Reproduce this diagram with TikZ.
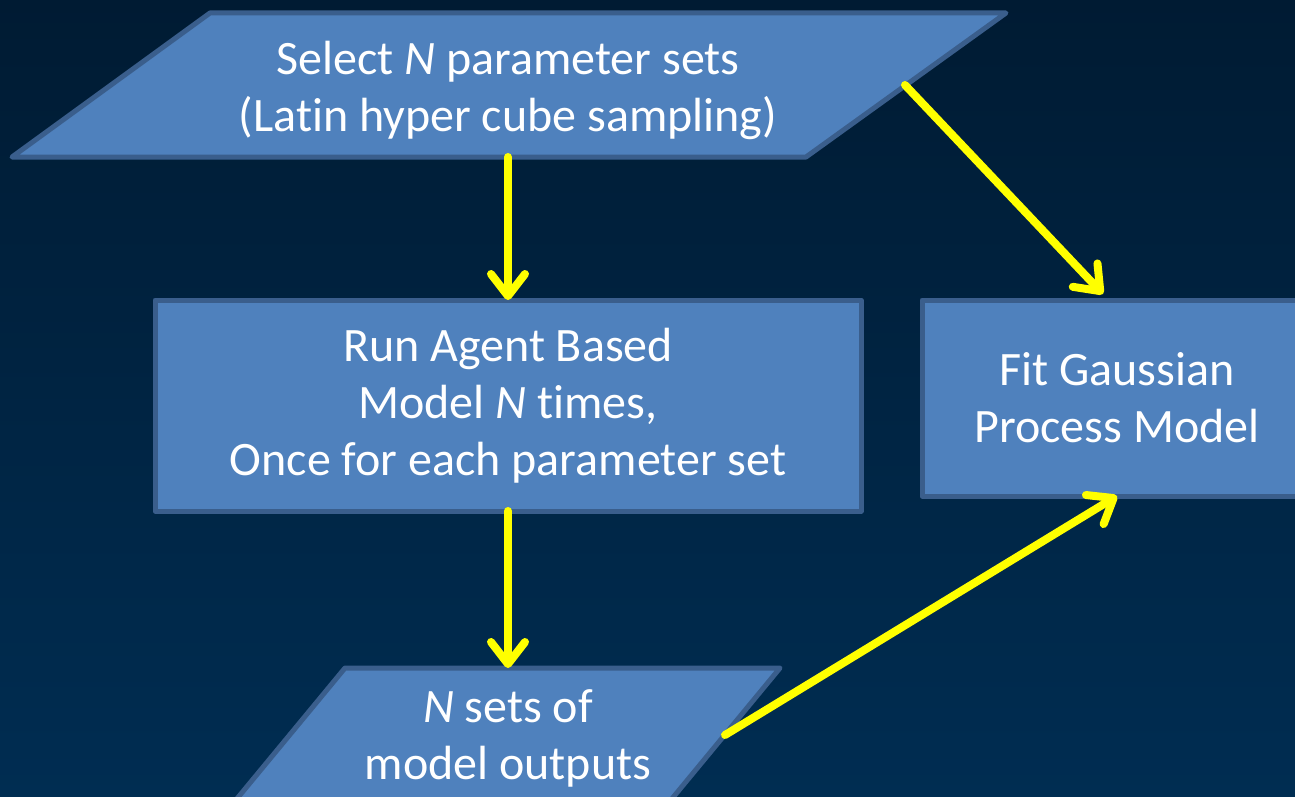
\documentclass[tikz,border=0pt]{standalone}
\usepackage{fontspec}
\setmainfont{Carlito}[Ligatures=NoCommon]
\usetikzlibrary{arrows.meta}
\definecolor{bgtop}{RGB}{0,27,51}
\definecolor{bgbot}{RGB}{0,45,82}
\definecolor{boxfill}{RGB}{79,129,189}
\definecolor{boxline}{RGB}{58,94,140}
\definecolor{arrowyel}{RGB}{255,255,0}
\tikzset{
  shapestyle/.style={fill=boxfill, draw=boxline, line width=5pt, line join=round},
  rbox/.style={shapestyle, rectangle, inner sep=0pt, outer sep=0pt, align=center,
    text=white, font=\fontsize{48}{57}\selectfont},
  lbl/.style={inner sep=0pt, outer sep=0pt, align=center, text=white,
    font=\fontsize{48}{57}\selectfont},
  arr/.style={draw=arrowyel, line width=8pt, line cap=round,
    -{Straight Barb[length=22pt,width=34pt,round]}}
}
\begin{document}
\begin{tikzpicture}[x=1pt,y=-1pt]
\useasboundingbox (0,0) rectangle (1295,797);
\clip (0,0) rectangle (1295,797);
\shade[top color=bgtop, bottom color=bgbot] (0,0) rectangle (1295,797);

% top parallelogram
\path[shapestyle] (12,157) -- (210,13) -- (1006,13) -- (806,157) -- cycle;
\node[lbl] (sel) at (508,90) {Select \textit{N} parameter sets\\(Latin hyper cube sampling)};

% middle box
\node[rbox, minimum width=706pt, minimum height=211pt] (run) at (508,405.5)
  {Run Agent Based\\Model \textit{N} times,\\Once for each parameter set};

% right box
\node[rbox, minimum width=390pt, minimum height=196pt] (fit) at (1117,398)
  {Fit Gaussian\\Process Model};

% bottom parallelogram
\path[shapestyle] (345,668) -- (780,668) -- (656,818) -- (221,818) -- cycle;
\node[lbl] (out) at (508,738) {\textit{N} sets of\\model outputs};

% connector end points
\coordinate (selbot) at (508,157);
\coordinate (selright) at (905,85);
\coordinate (fittop) at (1103,294);
\coordinate (outtop) at (508,668);
\coordinate (outright) at (725,735);

\draw[arr] (selbot) -- (run.north);
\draw[arr] (run.south) -- (outtop);
\draw[arr] (selright) -- (fittop);
\draw[arr] (outright) -- (fit.south);
\end{tikzpicture}
\end{document}
